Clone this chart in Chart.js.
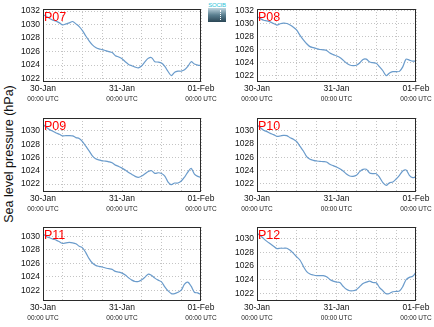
<!DOCTYPE html>
<html>
<head>
<meta charset="utf-8">
<script src="https://cdn.jsdelivr.net/npm/chart.js@4/dist/chart.umd.min.js"></script>
<style>
html,body{margin:0;padding:0;background:#fff;}
body{width:434px;height:327px;position:relative;overflow:hidden;font-family:"Liberation Sans",Arial,sans-serif;}
.pane{position:absolute;}
#ytitle{position:absolute;left:9px;top:154px;transform:translate(-50%,-50%) rotate(-90deg);white-space:nowrap;font-size:12.5px;color:#111;}
#logo{position:absolute;left:208px;top:2px;width:18px;}
#logo .t{font-size:6px;line-height:6px;height:6px;color:#2cc3d8;text-align:center;white-space:nowrap;letter-spacing:-0.2px;}
#logo .b{height:14px;background:linear-gradient(#c0d6e0,#5a7f90 50%,#2a4655);position:relative;}
#logo .b span{position:absolute;left:12px;top:2px;width:1px;height:10px;border-left:1px dotted #fff;}
</style>
</head>
<body>
<div id="ytitle">Sea level pressure (hPa)</div>
<div id="logo"><div class="t">SOCIB</div><div class="b"><span></span></div></div>
<script>
// ---------- data ----------
const hours = [0,1,2,3,4,5,6,7,8,9,10,11,12,13,14,15,16,17,18,19,20,21,22,23,24,
               25,26,27,28,29,30,31,32,33,34,35,36,37,38,39,40,41,42,43,44,45,46,47,48];
const gridHours = [0,6,12,18,24,30,36,42,48];
const labelHours = [0,24,48];
const dayLabels = ['30-Jan','31-Jan','01-Feb'];
const utcLabel = '00:00 UTC';
const stationNames = ['P07','P08','P09','P10','P11','P12'];
const ticksHigh = [1022,1024,1026,1028,1030,1032];
const ticksLow = [1022,1024,1026,1028,1030];

const p07 = [1031.5,1031.2,1030.9,1030.65,1030.5,1030.25,1029.95,1030.1,1030.25,1030.45,1030.1,1029.7,1029.1,
  1028.3,1027.6,1027.0,1026.6,1026.4,1026.3,1026.15,1026.0,1025.85,1025.4,1025.2,1024.95,
  1024.5,1024.1,1023.9,1023.7,1023.6,1023.9,1024.5,1025.0,1025.1,1024.5,1024.45,1024.3,1023.8,
  1023.05,1022.45,1022.95,1023.1,1023.1,1023.3,1023.8,1024.5,1024.15,1024.0,1023.95];
const p08 = [1031.1,1030.8,1030.55,1030.45,1030.3,1030.05,1029.8,1030.0,1030.1,1030.05,1029.8,1029.45,1029.0,
  1028.2,1027.5,1026.9,1026.45,1026.3,1026.15,1026.0,1025.95,1025.85,1025.45,1025.2,1025.0,
  1024.75,1024.35,1023.9,1023.6,1023.5,1023.55,1023.9,1024.45,1024.5,1024.05,1023.95,1023.85,1023.3,
  1022.7,1021.95,1022.35,1022.55,1022.55,1022.6,1023.3,1024.5,1024.35,1024.2,1024.2];
const p09 = [1031.0,1030.55,1030.2,1029.95,1029.7,1029.5,1029.25,1029.3,1029.3,1029.25,1029.0,1028.85,1028.4,
  1027.7,1027.0,1026.25,1025.8,1025.65,1025.5,1025.45,1025.35,1025.2,1024.85,1024.65,1024.4,
  1024.1,1023.75,1023.45,1023.15,1023.0,1023.2,1023.55,1023.9,1024.0,1023.6,1023.7,1023.6,1023.2,
  1022.3,1021.9,1022.15,1022.15,1022.45,1023.05,1023.8,1024.35,1023.5,1023.15,1023.0];
const p10 = [1030.85,1030.45,1030.05,1029.85,1029.6,1029.4,1029.15,1029.2,1029.3,1029.25,1028.95,1028.7,1028.35,
  1027.65,1026.95,1026.1,1025.7,1025.55,1025.45,1025.4,1025.35,1025.3,1024.95,1024.75,1024.55,
  1024.3,1023.95,1023.5,1023.2,1023.15,1023.3,1023.85,1024.2,1024.2,1023.65,1023.55,1023.55,1023.0,
  1022.2,1021.8,1022.2,1022.3,1022.75,1023.3,1023.95,1024.1,1023.3,1022.95,1023.1];
const p11 = [1030.4,1030.0,1029.8,1029.6,1029.45,1029.2,1028.95,1029.05,1029.1,1029.05,1028.9,1028.55,1028.3,
  1027.6,1026.7,1026.05,1025.7,1025.55,1025.45,1025.3,1025.2,1025.1,1024.8,1024.7,1024.55,
  1024.25,1023.85,1023.5,1023.3,1023.3,1023.55,1023.95,1024.4,1024.2,1023.8,1023.5,1023.25,1022.5,
  1021.9,1021.5,1021.5,1021.7,1022.0,1022.9,1023.2,1022.6,1021.7,1021.6,1021.35];
const p12 = [1030.8,1030.45,1030.0,1029.6,1029.25,1028.9,1028.55,1028.6,1028.6,1028.6,1028.3,1027.85,1027.35,
  1026.85,1025.95,1025.2,1024.85,1024.7,1024.6,1024.6,1024.6,1024.45,1024.05,1023.8,1023.65,
  1023.6,1023.05,1022.6,1022.4,1022.4,1022.55,1023.0,1023.45,1023.65,1023.8,1023.6,1023.55,1022.85,
  1022.4,1021.95,1022.0,1022.25,1022.3,1022.35,1023.0,1024.0,1024.35,1024.5,1025.1];

const seriesList = [p07,p08,p09,p10,p11,p12];
const yMins = [1021.5,1020.95,1020.8,1020.8,1020.4,1020.9];
const yMaxs = [1032.3,1032.3,1031.95,1031.9,1031.4,1031.7];
const yTickSets = [ticksHigh,ticksHigh,ticksLow,ticksLow,ticksLow,ticksLow];

// ---------- layout ----------
const FONT = "'Liberation Sans', Arial, sans-serif";
Chart.defaults.font.family = FONT;
const colX = [{x:13,w:204,padR:16},{x:227,w:205,padR:16}];
const rowY = [{y:0,h:108,padT:9,axisH:26},{y:109,h:108,padT:9,axisH:25},{y:218,h:109,padT:9,axisH:26}];

const decor = {
  id:'decor',
  afterDraw(chart, args, opts){
    const ctx = chart.ctx, a = chart.chartArea;
    ctx.save();
    const xs = chart.scales.x;
    ctx.fillStyle = '#222';
    ctx.font = "6.5px " + FONT;
    ctx.textAlign = 'center';
    ctx.textBaseline = 'middle';
    labelHours.forEach(h => ctx.fillText(utcLabel, xs.getPixelForValue(h), a.bottom + 17));
    ctx.strokeStyle = '#2a2a2a';
    ctx.lineWidth = 1;
    ctx.strokeRect(a.left + 0.5, a.top + 0.5, a.right - a.left - 1, a.bottom - a.top - 1);
    ctx.fillStyle = '#ff0000';
    ctx.font = "12.5px " + FONT;
    ctx.textAlign = 'left';
    ctx.textBaseline = 'alphabetic';
    ctx.fillText(opts.name, a.left + 1, a.top + 11.5);
    ctx.restore();
  }
};

stationNames.forEach((name, i) => {
  const col = colX[i % 2], row = rowY[Math.floor(i / 2)];
  const div = document.createElement('div');
  div.className = 'pane';
  div.style.left = col.x + 'px'; div.style.top = row.y + 'px';
  div.style.width = col.w + 'px'; div.style.height = row.h + 'px';
  const cv = document.createElement('canvas');
  cv.width = col.w; cv.height = row.h;
  cv.style.width = col.w + 'px'; cv.style.height = row.h + 'px';
  div.appendChild(cv);
  document.body.appendChild(div);
  const vals = seriesList[i];
  const ticks = yTickSets[i];
  const gridOpts = {color:'#c4c4c4', lineWidth:1, drawTicks:false, tickLength:0};
  const borderOpts = {display:false, dash:[1,2]};
  new Chart(cv, {
    type:'line',
    data:{datasets:[{
      data: vals.map((v,k) => ({x:hours[k], y:v})),
      borderColor:'#6a9bcb', borderWidth:1.2, pointRadius:0, tension:0.3, fill:false
    }]},
    options:{
      responsive:false, animation:false, devicePixelRatio:1,
      layout:{padding:{left:0, right:col.padR, top:row.padT, bottom:0}},
      plugins:{legend:{display:false}, tooltip:{enabled:false}, decor:{name:name}},
      scales:{
        x:{type:'linear', min:0, max:48,
          afterBuildTicks:s => { s.ticks = gridHours.map(v => ({value:v})); },
          afterFit:s => { s.height = row.axisH; s.paddingLeft = 0; s.paddingRight = 0; },
          grid:gridOpts, border:borderOpts,
          ticks:{autoSkip:false, maxRotation:0, minRotation:0, padding:2, color:'#111',
            font:{size:8.5},
            callback:v => { const k = labelHours.indexOf(v); return k >= 0 ? dayLabels[k] : ''; }}
        },
        y:{type:'linear', min:yMins[i], max:yMaxs[i],
          afterBuildTicks:s => { s.ticks = ticks.map(v => ({value:v})); },
          afterFit:s => { s.width = 30; s.paddingTop = 0; s.paddingBottom = 0; },
          grid:gridOpts, border:borderOpts,
          ticks:{padding:3, color:'#111', font:{size:8.5}, callback:v => String(v)}
        }
      }
    },
    plugins:[decor]
  });
});
</script>
</body>
</html>
